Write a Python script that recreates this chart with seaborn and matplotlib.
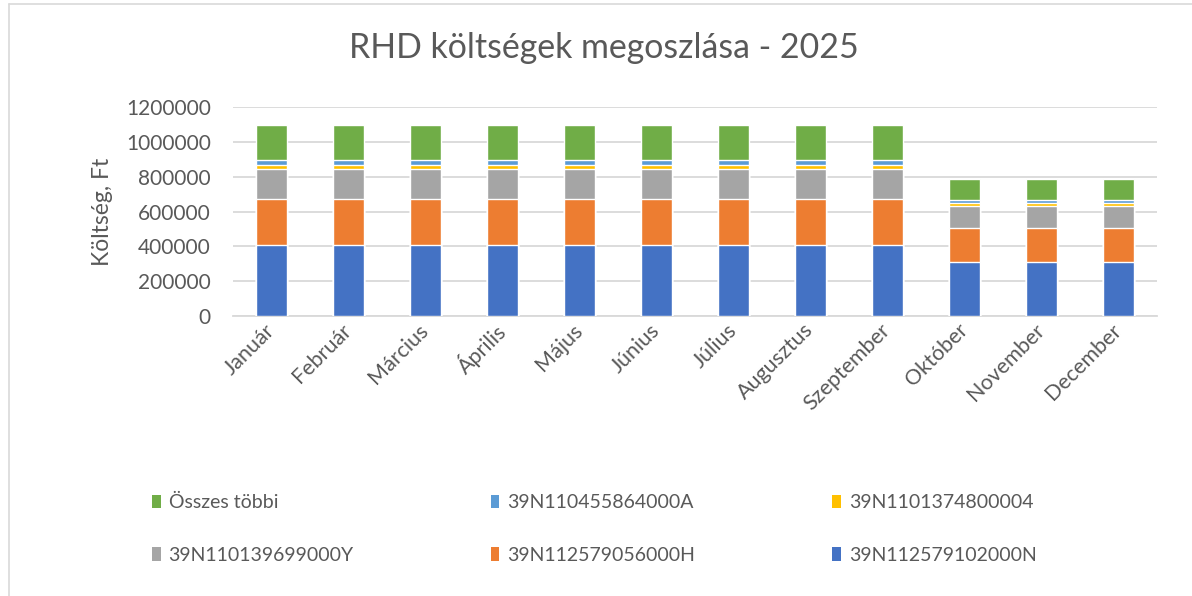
import numpy as np
import pandas as pd
import matplotlib
matplotlib.use("Agg")
import matplotlib.pyplot as plt
from matplotlib.lines import Line2D
from matplotlib.patches import Patch
from matplotlib.ticker import FuncFormatter
import seaborn as sns

# ---------------- data ----------------
months = ['Január', 'Február', 'Március', 'Április', 'Május', 'Június',
          'Július', 'Augusztus', 'Szeptember', 'Október', 'November', 'December']

s_102000N = [410000] * 9 + [310000] * 3
s_056000H = [260000] * 9 + [198000] * 3
s_699000Y = [176000] * 9 + [124000] * 3
s_800004 = [23000] * 9 + [17000] * 3
s_864000A = [25000] * 9 + [15000] * 3
s_tobbi = [203000] * 9 + [121000] * 3

series_names = ['39N112579102000N', '39N112579056000H', '39N110139699000Y',
                '39N1101374800004', '39N110455864000A', 'Összes többi']
series_vals = [s_102000N, s_056000H, s_699000Y, s_800004, s_864000A, s_tobbi]
colors = ['#4472C4', '#ED7D31', '#A5A5A5', '#FFC000', '#5B9BD5', '#70AD47']

# ---------------- style ----------------
sns.set_theme(style='white')
plt.rcParams['font.family'] = ['Lato', 'DejaVu Sans']
txt = '#595959'
grid = '#D9D9D9'

fig = plt.figure(figsize=(11.92, 5.96), dpi=100)
ax = fig.add_axes([233 / 1192, 1 - 316 / 596, (1157 - 233) / 1192, (316 - 107) / 596])

# stacked bars: draw cumulative totals from the top layer down
df = pd.DataFrame({n: v for n, v in zip(series_names, series_vals)}, index=months)
cum = df.cumsum(axis=1)
for name, col in reversed(list(zip(series_names, colors))):
    sns.barplot(x=months, y=cum[name].values, color=col, width=0.4,
                saturation=1, ax=ax, zorder=3)

ax.set_ylim(0, 1200000)
ax.set_yticks(np.arange(0, 1200001, 200000))
ax.yaxis.set_major_formatter(FuncFormatter(lambda v, p: f'{int(v)}'))
ax.grid(axis='y', color=grid, linewidth=1.3, zorder=0)
ax.set_axisbelow(True)
for sp in ['top', 'right', 'left']:
    ax.spines[sp].set_visible(False)
ax.spines['bottom'].set_color(grid)
ax.spines['bottom'].set_linewidth(1.3)
ax.tick_params(axis='y', length=0, pad=16, labelsize=15, labelcolor=txt)
ax.tick_params(axis='x', length=0, pad=8, labelsize=15.5, labelcolor=txt)
plt.setp(ax.get_xticklabels(), rotation=45, ha='right', va='center',
         rotation_mode='anchor')

ax.set_ylabel('Költség, Ft', fontsize=16.5, color=txt, labelpad=9)
ax.set_xlabel('')
fig.text(0.5 * (352 + 855) / 1192, 1 - 48 / 596, 'RHD költségek megoszlása - 2025',
         ha='center', va='center', fontsize=24.4, color=txt)

# legend, row-wise order as in the original (matplotlib fills by column)
order = [5, 2, 4, 1, 3, 0]
handles = [Patch(facecolor=colors[i], edgecolor='none') for i in order]
labels = [series_names[i] for i in order]
fig.legend(handles, labels, ncol=3, loc='upper left',
           bbox_to_anchor=(152 / 1192, 1 - 494 / 596), frameon=False,
           fontsize=14, labelcolor=txt, handlelength=0.45, handleheight=0.7,
           handletextpad=0.4, columnspacing=7.05, labelspacing=1.84,
           borderpad=0, borderaxespad=0)

# chart area border
fig.add_artist(Line2D([8.5 / 1192, 8.5 / 1192], [0, 1 - 4 / 596],
                      color=grid, linewidth=1.2, transform=fig.transFigure))
fig.add_artist(Line2D([8.5 / 1192, 1], [1 - 4 / 596, 1 - 4 / 596],
                      color=grid, linewidth=1.2, transform=fig.transFigure))

fig.savefig('out.png', dpi=100)
